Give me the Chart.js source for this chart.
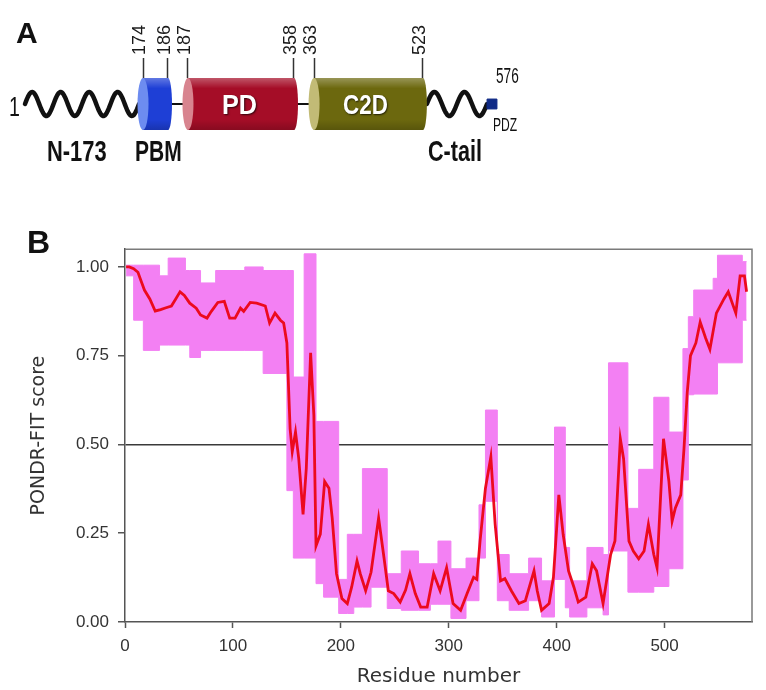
<!DOCTYPE html>
<html lang="en">
<head>
<meta charset="UTF-8">
<title>PONDR-FIT disorder profile</title>
<script src="https://cdn.jsdelivr.net/npm/chart.js"></script>
<style>
    body {
        margin: 0;
        background: #fff;
        font-family: Arial, "Liberation Sans", sans-serif;
    }
    #figure {
        position: relative;
        width: 766px;
        height: 690px;
        overflow: hidden;
    }
    canvas {
        position: absolute;
        left: 0;
    }
    #domainChart { top: 0; }
    #pondrChart { top: 230px; }
    .lbl {
        position: absolute;
        white-space: nowrap;
        line-height: 1;
        transform-origin: 0 0;
        color: #111;
    }
    .bold { font-weight: bold; }
    .inside {
        color: #fff;
        font-weight: bold;
        text-shadow: 1px 1px 2px rgba(0,0,0,0.7);
    }
</style>
</head>
<body>
<div id="figure">
    <canvas id="domainChart" width="766" height="200"></canvas>
    <canvas id="pondrChart" width="766" height="460"></canvas>

    <div class="lbl bold" style="left:16px;top:18px;font-size:30px;">A</div>
    <div class="lbl bold" style="left:27px;top:226px;font-size:32px;">B</div>
    <div class="lbl" style="left:9px;top:93px;font-size:28px;transform:scaleX(0.7);">1</div>
    <div class="lbl" style="left:496px;top:65px;font-size:22px;transform:scaleX(0.62);">576</div>
    <div class="lbl bold" style="left:47px;top:136px;font-size:30px;transform:scaleX(0.73);">N-173</div>
    <div class="lbl bold" style="left:135px;top:136px;font-size:30px;transform:scaleX(0.7);">PBM</div>
    <div class="lbl bold" style="left:428px;top:136px;font-size:30px;transform:scaleX(0.72);">C-tail</div>
    <div class="lbl" style="left:493px;top:116px;font-size:18px;transform:scaleX(0.67);">PDZ</div>
    <div class="lbl inside" style="left:222px;top:91px;font-size:28px;transform:scaleX(0.9);">PD</div>
    <div class="lbl inside" style="left:343px;top:91px;font-size:28px;transform:scaleX(0.8);">C2D</div>
</div>

<script>
    // ---- panel A: domain architecture ----
    const proteinLength = 576;
    const domainNames = ['PBM', 'PD', 'C2D'];
    const domainStart = [174, 187, 363];
    const domainEnd = [186, 358, 523];
    const boundaryTicks = [174, 186, 187, 358, 363, 523];

    // ---- panel B: PONDR-FIT profile ----
    const lineRes = [1, 4, 8, 12, 15, 18, 23, 28, 33, 38, 43, 47, 51, 55, 60, 66, 70, 76, 80, 86,
        92, 97, 102, 107, 110, 116, 122, 130, 134, 139, 144, 147, 150, 153, 155, 158, 161, 165, 168, 172,
        175, 177, 181, 185, 189, 192, 196, 201, 206, 210, 215, 218, 223, 228, 235, 240, 244, 249, 255, 260,
        264, 269, 274, 280, 286, 292, 298, 304, 311, 317, 323, 326, 329, 334, 339, 343, 348, 352, 358, 365,
        371, 379, 382, 386, 393, 397, 402, 406, 411, 416, 420, 427, 433, 437, 443, 450, 454, 459, 462, 467,
        471, 476, 481, 485, 490, 493, 499, 504, 507, 510, 515, 518, 521, 524, 529, 533, 538, 542, 548, 555,
        559, 566, 570, 574, 576];
    const lineScore = [1.0, 1.0, 0.995, 0.985, 0.96, 0.935, 0.91, 0.876, 0.88, 0.885, 0.89, 0.91, 0.93, 0.92, 0.898, 0.884, 0.865, 0.856, 0.875, 0.9,
        0.903, 0.856, 0.856, 0.884, 0.875, 0.9, 0.898, 0.89, 0.842, 0.87, 0.85, 0.842, 0.786, 0.544, 0.48, 0.535, 0.46, 0.303, 0.433, 0.758,
        0.582, 0.214, 0.247, 0.396, 0.377, 0.293, 0.136, 0.066, 0.052, 0.098, 0.172, 0.136, 0.088, 0.14, 0.293, 0.181, 0.088, 0.08, 0.056, 0.09,
        0.136, 0.08, 0.042, 0.042, 0.136, 0.088, 0.153, 0.052, 0.033, 0.08, 0.126, 0.12, 0.228, 0.377, 0.465, 0.275, 0.116, 0.122, 0.088, 0.052,
        0.06, 0.144, 0.088, 0.033, 0.052, 0.126, 0.358, 0.247, 0.144, 0.098, 0.056, 0.07, 0.164, 0.144, 0.052, 0.19, 0.228, 0.516, 0.46, 0.228,
        0.2, 0.178, 0.2, 0.275, 0.19, 0.153, 0.516, 0.396, 0.284, 0.321, 0.358, 0.489, 0.647, 0.75, 0.786, 0.845, 0.80, 0.768, 0.87, 0.91,
        0.93, 0.87, 0.975, 0.975, 0.93];

    // error band, one value per block starting at bandRes[i]
    const bandRes = [1, 8, 17, 32, 40, 56, 60, 70, 84, 111, 128, 150, 156, 166, 177, 184, 198, 206, 212, 220,
        228, 243, 256, 272, 283, 290, 302, 316, 328, 334, 345, 356, 374, 386, 398, 408, 412, 428, 443, 448,
        466, 476, 490, 504, 517, 522, 527, 545, 549, 572, 576];
    const bandUpper = [1.005, 1.005, 1.005, 0.975, 1.025, 0.99, 0.99, 0.955, 0.99, 1.0, 0.99, 0.99, 0.69, 1.037, 0.565, 0.565, 0.12, 0.247, 0.247, 0.432,
        0.432, 0.136, 0.2, 0.164, 0.164, 0.228, 0.15, 0.18, 0.33, 0.597, 0.19, 0.136, 0.18, 0.116, 0.549, 0.21, 0.116, 0.21, 0.19, 0.73,
        0.32, 0.43, 0.633, 0.535, 0.77, 0.86, 0.935, 0.968, 1.033, 1.015, 1.015];
    const bandLower = [0.975, 0.85, 0.765, 0.78, 0.78, 0.78, 0.745, 0.765, 0.765, 0.765, 0.70, 0.37, 0.18, 0.18, 0.108, 0.07, 0.024, 0.024, 0.042, 0.042,
        0.098, 0.038, 0.033, 0.033, 0.05, 0.05, 0.01, 0.06, 0.18, 0.34, 0.06, 0.033, 0.06, 0.014, 0.12, 0.04, 0.014, 0.04, 0.02, 0.2,
        0.084, 0.084, 0.10, 0.15, 0.40, 0.64, 0.642, 0.642, 0.73, 0.85, 0.85];

    const xTicks = [0, 100, 200, 300, 400, 500];
    const yTicks = [0, 0.25, 0.5, 0.75, 1.0];

    // colours
    const domainBody = ['#1e3fd6', '#a50d27', '#6c680e'];
    const domainCap = ['#6d8cf0', '#d8848f', '#c2bb76'];
    const bandPink = 'rgb(243,128,243)';
    const lineRed = '#ec0a1e';

    // schematic (not to scale) axis for panel A: residue -> fraction of axis length
    const schematicResidues = [1, 174, 186, 187, 358, 363, 523, 576];
    const schematicFractions = [0, 0.2527, 0.3062, 0.349, 0.576, 0.619, 0.852, 1];

    class SchematicScale extends Chart.LinearScale {
        getPixelForValue(value) {
            const r = schematicResidues, f = schematicFractions;
            let i = 1;
            while (i < r.length - 1 && value > r[i]) i++;
            const t = (value - r[i - 1]) / (r[i] - r[i - 1]);
            return this.left + (f[i - 1] + t * (f[i] - f[i - 1])) * this.width;
        }
        getValueForPixel(pixel) {
            const r = schematicResidues, f = schematicFractions;
            const p = (pixel - this.left) / this.width;
            let i = 1;
            while (i < f.length - 1 && p > f[i]) i++;
            const t = (p - f[i - 1]) / (f[i] - f[i - 1]);
            return r[i - 1] + t * (r[i] - r[i - 1]);
        }
    }
    SchematicScale.id = 'schematic';
    SchematicScale.defaults = Chart.LinearScale.defaults;
    Chart.register(SchematicScale);

    function drawCoil(ctx, x0, x1, y, turns, amp) {
        const len = x1 - x0;
        ctx.beginPath();
        for (let px = 0; px <= len; px++) {
            const yy = y - amp * Math.sin(px / len * turns * 2 * Math.PI);
            if (px === 0) ctx.moveTo(x0, yy); else ctx.lineTo(x0 + px, yy);
        }
        ctx.stroke();
    }

    const cylinderPlugin = {
        id: 'cylinders',
        beforeDatasetsDraw(chart) {
            const ctx = chart.ctx, x = chart.scales.x;
            const yMid = (chart.chartArea.top + chart.chartArea.bottom) / 2;
            ctx.save();
            ctx.strokeStyle = '#111';
            ctx.lineCap = 'round';
            ctx.lineJoin = 'round';
            ctx.lineWidth = 2;
            for (let i = 0; i < domainStart.length - 1; i++) {
                ctx.beginPath();
                ctx.moveTo(x.getPixelForValue(domainEnd[i]), yMid);
                ctx.lineTo(x.getPixelForValue(domainStart[i + 1]), yMid);
                ctx.stroke();
            }
            ctx.lineWidth = 4.5;
            drawCoil(ctx, x.getPixelForValue(1), x.getPixelForValue(domainStart[0]) - 4, yMid, 4, 12);
            drawCoil(ctx, x.getPixelForValue(domainEnd[domainEnd.length - 1]) + 4, x.getPixelForValue(proteinLength) - 5, yMid, 2, 12);
            ctx.restore();
        },
        afterDatasetDraw(chart, args) {
            if (args.index !== 0) return;
            const ctx = chart.ctx;
            args.meta.data.forEach((bar, i) => {
                const p = bar.getProps(['x', 'base', 'y', 'height'], true);
                const ry = p.height / 2, top = p.y - ry;
                ctx.save();
                // rounded far end
                ctx.fillStyle = domainBody[i];
                ctx.beginPath();
                ctx.ellipse(p.x, p.y, 4, ry, 0, -Math.PI / 2, Math.PI / 2);
                ctx.fill();
                // shading over the body
                const g = ctx.createLinearGradient(0, top, 0, top + p.height);
                g.addColorStop(0, 'rgba(255,255,255,0.30)');
                g.addColorStop(0.2, 'rgba(255,255,255,0)');
                g.addColorStop(0.8, 'rgba(0,0,0,0)');
                g.addColorStop(1, 'rgba(0,0,0,0.18)');
                ctx.fillStyle = g;
                ctx.beginPath();
                ctx.rect(p.base, top, p.x - p.base, p.height);
                ctx.ellipse(p.x, p.y, 4, ry, 0, -Math.PI / 2, Math.PI / 2);
                ctx.fill();
                // near end cap
                ctx.fillStyle = domainCap[i];
                ctx.beginPath();
                ctx.ellipse(p.base, p.y, 5.5, ry, 0, 0, 2 * Math.PI);
                ctx.fill();
                ctx.restore();
            });
        }
    };

    new Chart(document.getElementById('domainChart'), {
        type: 'bar',
        data: {
            labels: ['protein'],
            datasets: [{
                label: 'domains',
                data: domainNames.map((n, i) => ({ x: [domainStart[i], domainEnd[i]], y: 'protein' })),
                backgroundColor: domainBody,
                borderWidth: 0,
                barPercentage: 1,
                categoryPercentage: 1
            }, {
                type: 'line',
                label: 'PDZ',
                data: [{ x: proteinLength, y: 'protein' }],
                showLine: false,
                clip: false,
                pointStyle: 'rect',
                pointRadius: 7,
                backgroundColor: '#0f2a86',
                borderColor: '#0f2a86'
            }]
        },
        options: {
            indexAxis: 'y',
            responsive: false,
            animation: false,
            events: [],
            layout: { padding: { left: 25, right: 274, top: 0, bottom: 70 } },
            plugins: { legend: { display: false }, tooltip: { enabled: false } },
            scales: {
                x: {
                    type: 'schematic',
                    position: 'top',
                    min: 1,
                    max: proteinLength,
                    afterBuildTicks: s => { s.ticks = boundaryTicks.map(v => ({ value: v })); },
                    afterFit: s => { s.height = 78; },
                    ticks: {
                        autoSkip: false,
                        minRotation: 90,
                        maxRotation: 90,
                        padding: 3,
                        labelOffset: 19,
                        color: '#1a1a1a',
                        font: { family: 'Arial', size: 18 }
                    },
                    grid: { drawOnChartArea: false, tickLength: 20, tickColor: '#333', tickWidth: 1.5 },
                    border: { display: false }
                },
                y: { display: false }
            }
        },
        plugins: [cylinderPlugin]
    });

    const framePlugin = {
        id: 'frame',
        afterDraw(chart) {
            const { ctx, chartArea: { left, top, right, bottom } } = chart;
            ctx.save();
            ctx.strokeStyle = '#7a7a7a';
            ctx.lineWidth = 1.5;
            ctx.beginPath();
            ctx.moveTo(left, top);
            ctx.lineTo(right, top);
            ctx.lineTo(right, bottom);
            ctx.stroke();
            ctx.restore();
        }
    };

    const tickFont = { family: 'Arial', size: 17 };

    new Chart(document.getElementById('pondrChart'), {
        type: 'line',
        data: {
            datasets: [{
                label: 'PONDR-FIT',
                data: lineRes.map((r, i) => ({ x: r, y: lineScore[i] })),
                borderColor: lineRed,
                borderWidth: 2.8,
                pointRadius: 0,
                fill: false,
                order: 0
            }, {
                label: 'upper',
                data: bandRes.map((r, i) => ({ x: r, y: bandUpper[i] })),
                stepped: true,
                borderColor: bandPink,
                borderWidth: 1,
                pointRadius: 0,
                backgroundColor: bandPink,
                fill: '+1',
                order: 1
            }, {
                label: 'lower',
                data: bandRes.map((r, i) => ({ x: r, y: bandLower[i] })),
                stepped: true,
                borderColor: bandPink,
                borderWidth: 1,
                pointRadius: 0,
                fill: false,
                order: 2
            }]
        },
        options: {
            responsive: false,
            animation: false,
            events: [],
            layout: { padding: { left: 0, right: 14, top: 15, bottom: 0 } },
            plugins: { legend: { display: false }, tooltip: { enabled: false } },
            scales: {
                x: {
                    type: 'linear',
                    min: 0,
                    max: 581,
                    afterBuildTicks: s => { s.ticks = xTicks.map(v => ({ value: v })); },
                    afterFit: s => { s.height = 68; },
                    ticks: { color: '#333', font: tickFont, padding: 8, maxRotation: 0 },
                    grid: { drawOnChartArea: false, tickLength: 6, tickColor: '#555', tickWidth: 1.5 },
                    border: { color: '#555', width: 1.5 },
                    title: {
                        display: true,
                        text: 'Residue number',
                        color: '#333',
                        font: { family: 'DejaVu Sans', size: 20 },
                        padding: { top: 0, bottom: 1 }
                    }
                },
                y: {
                    min: 0,
                    max: 1.05,
                    afterBuildTicks: s => { s.ticks = yTicks.map(v => ({ value: v })); },
                    afterFit: s => { s.width = 125; },
                    ticks: { color: '#333', font: tickFont, padding: 9, callback: v => Number(v).toFixed(2) },
                    grid: {
                        color: c => (c.tick && c.tick.value === 0.5) ? '#3a3a3a' : 'rgba(0,0,0,0)',
                        lineWidth: 1.5,
                        tickLength: 7,
                        tickColor: '#555',
                        tickWidth: 1.5
                    },
                    border: { color: '#555', width: 1.5 },
                    title: {
                        display: true,
                        text: 'PONDR-FIT score',
                        color: '#333',
                        font: { family: 'DejaVu Sans', size: 19 },
                        padding: { top: 28, bottom: 0 }
                    }
                }
            }
        },
        plugins: [framePlugin]
    });
</script>
</body>
</html>
